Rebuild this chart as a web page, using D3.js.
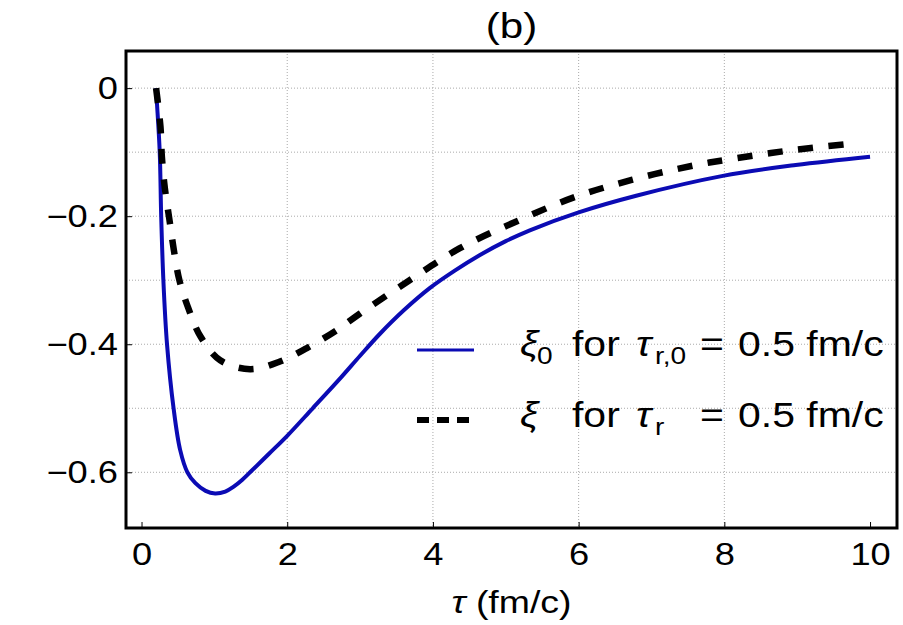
<!DOCTYPE html>
<html>
<head>
<meta charset="utf-8">
<script src="https://cdn.jsdelivr.net/npm/d3@7"></script>
<style>
  body { margin: 0; background: #fff; }
  svg { display: block; font-family: "Liberation Sans", Arial, sans-serif; }
</style>
</head>
<body>
<div class="chart-container"></div>
<script>
// curve data
const xiTau = [0.2, 0.21, 0.25, 0.27, 0.30, 0.35, 0.44, 0.53, 0.63, 0.74, 0.88, 1.01, 1.15, 1.27, 1.38, 1.49, 1.75, 2.0, 2.35, 2.73, 3.0, 3.27, 3.6, 3.96, 4.3, 4.64, 5.0, 5.33, 6.0, 6.79, 7.98, 8.98, 10.0];
const xiVal = [0, -0.02, -0.10, -0.20, -0.30, -0.40, -0.50, -0.565, -0.60, -0.617, -0.629, -0.633, -0.630, -0.622, -0.612, -0.600, -0.571, -0.543, -0.500, -0.453, -0.418, -0.384, -0.347, -0.312, -0.285, -0.261, -0.239, -0.222, -0.194, -0.168, -0.137, -0.120, -0.107];

const dashTau = [0.2, 0.26, 0.28, 0.32, 0.38, 0.44, 0.52, 0.65, 0.81, 1.08, 1.49, 1.90, 2.27, 2.68, 3.0, 3.68, 4.37, 5.17, 5.95, 6.74, 7.57, 8.02, 8.85, 9.8];
const dashVal = [0, -0.06, -0.108, -0.156, -0.203, -0.25, -0.30, -0.346, -0.388, -0.425, -0.439, -0.427, -0.406, -0.378, -0.352, -0.300, -0.250, -0.207, -0.170, -0.143, -0.121, -0.112, -0.098, -0.086];

const xTicks = [0, 2, 4, 6, 8, 10];
const yTicks = [0, -0.2, -0.4, -0.6];
const xGrid = [2, 4, 6, 8];
const yGrid = [0, -0.1, -0.2, -0.3, -0.4, -0.5, -0.6];

const width = 903;
const height = 625;
const margin = {left: 126, right: 6, top: 51, bottom: 97};
const SX = 1.17;   // the figure's text is a bit wide

const x = d3.scaleLinear().domain([-0.213, 10.37]).range([margin.left, width - margin.right]);
const y = d3.scaleLinear().domain([-0.687, 0.058]).range([height - margin.bottom, margin.top]);

const svg = d3.select('.chart-container').append('svg')
    .attr('width', width)
    .attr('height', height)
    .attr('viewBox', [0, 0, width, height]);

// dotted grid
svg.append('g').selectAll('line')
    .data(yGrid)
    .join('line')
    .attr('x1', margin.left).attr('x2', width - margin.right)
    .attr('y1', d => y(d)).attr('y2', d => y(d))
    .attr('stroke', '#aaa').attr('stroke-width', 1).attr('stroke-dasharray', '1,2');

svg.append('g').selectAll('line')
    .data(xGrid)
    .join('line')
    .attr('x1', d => x(d)).attr('x2', d => x(d))
    .attr('y1', margin.top).attr('y2', height - margin.bottom)
    .attr('stroke', '#aaa').attr('stroke-width', 1).attr('stroke-dasharray', '1,2');

// axes
const fmt = d => d === 0 ? '0' : d3.format('.1f')(d);

const xAxis = svg.append('g')
    .attr('transform', `translate(0,${height - margin.bottom})`)
    .call(d3.axisBottom(x).tickValues(xTicks).tickSize(-6).tickPadding(15).tickFormat(d3.format('d')));

const yAxis = svg.append('g')
    .attr('transform', `translate(${margin.left},0)`)
    .call(d3.axisLeft(y).tickValues(yTicks).tickSize(-6).tickPadding(8).tickFormat(fmt));

[xAxis, yAxis].forEach(a => {
    a.select('.domain').remove();
    a.selectAll('.tick line').attr('stroke', '#000').attr('stroke-width', 1);
    a.selectAll('.tick text')
        .attr('fill', '#000')
        .attr('font-size', 31)
        .attr('font-family', '"Liberation Sans", Arial, sans-serif')
        .attr('transform', `scale(${SX},1)`);
});
yAxis.selectAll('.tick text').attr('x', -8 / SX);

// curves
const line = d3.line()
    .x(d => x(d[0]))
    .y(d => y(d[1]))
    .curve(d3.curveCatmullRom.alpha(0.5));

svg.append('path')
    .datum(xiTau.map((t, i) => [t, xiVal[i]]))
    .attr('fill', 'none')
    .attr('stroke', '#0b0bb4')
    .attr('stroke-width', 4)
    .attr('d', line);

svg.append('path')
    .datum(dashTau.map((t, i) => [t, dashVal[i]]))
    .attr('fill', 'none')
    .attr('stroke', '#000')
    .attr('stroke-width', 6.5)
    .attr('stroke-dasharray', '15,15.5')
    .attr('d', line);

// frame
svg.append('rect')
    .attr('x', margin.left)
    .attr('y', margin.top)
    .attr('width', width - margin.right - margin.left)
    .attr('height', height - margin.bottom - margin.top)
    .attr('fill', 'none')
    .attr('stroke', '#000')
    .attr('stroke-width', 3);

function stext(parent, px, py, size, str, opts = {}) {
    const t = parent.append('text')
        .attr('transform', `translate(${px},${py}) scale(${SX},1)`)
        .attr('font-size', size)
        .attr('text-anchor', opts.anchor || 'start')
        .text(str);
    if (opts.italic) t.attr('font-style', 'italic');
    return t;
}

// title + axis label
stext(svg, (margin.left + width - margin.right) / 2, 38, 36, '(b)', {anchor: 'middle'});

const xl = stext(svg, (margin.left + width - margin.right) / 2, 613, 32, '', {anchor: 'middle'});
xl.append('tspan').attr('font-style', 'italic').text('τ');
xl.append('tspan').text(' (fm/c)');

// legend
const legend = svg.append('g');

legend.append('line')
    .attr('x1', 417).attr('x2', 474).attr('y1', 350).attr('y2', 350)
    .attr('stroke', '#0b0bb4').attr('stroke-width', 3);

legend.append('line')
    .attr('x1', 417).attr('x2', 470).attr('y1', 420).attr('y2', 420)
    .attr('stroke', '#000').attr('stroke-width', 6)
    .attr('stroke-dasharray', '12,8');

function legendRow(base, sub, tauSub) {
    const g = legend.append('g');
    stext(g, 520, base, 35, 'ξ', {italic: true});
    if (sub) stext(g, 537, base + 8, 24, sub);
    stext(g, 572, base, 35, 'for');
    stext(g, 636, base, 35, 'τ', {italic: true});
    stext(g, 655, base + 8, 24, tauSub);
    stext(g, 700, base, 35, '=');
    stext(g, 738, base, 35, '0.5 fm/c');
}
legendRow(356, '0', 'r,0');
legendRow(427, null, 'r');
</script>
</body>
</html>
